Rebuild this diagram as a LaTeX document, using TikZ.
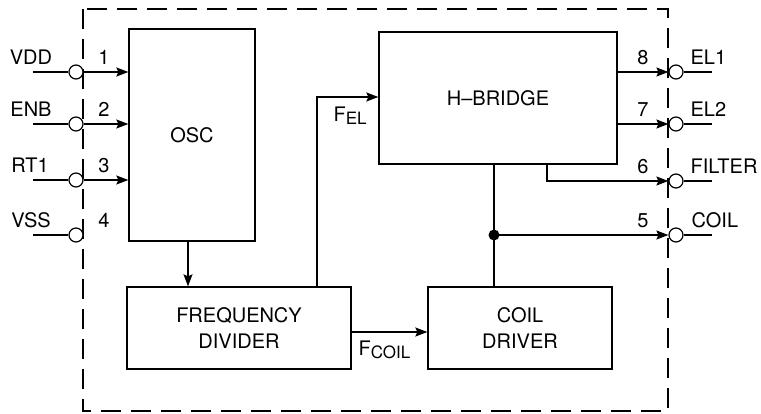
\documentclass[tikz,border=0pt]{standalone}
\usepackage{fontspec}
\setmainfont{TeX Gyre Heros}
\usetikzlibrary{arrows.meta}
\newcommand{\sub}[1]{{\fontsize{17}{17}\selectfont\raisebox{-3.5pt}{#1}}}
\begin{document}
\begin{tikzpicture}[x=1pt,y=-1pt,
  font=\fontsize{20}{26}\selectfont,
  line width=1.3pt,
  >={Stealth[length=12pt,width=9pt,inset=2pt]},
  blk/.style={draw,line width=1.3pt,inner sep=0pt,align=center},
  pin/.style={draw,circle,line width=1.2pt,minimum size=14pt,inner sep=0pt,fill=white},
  border/.style={draw,line width=2.8pt,dash pattern=on 20pt off 10pt},
  lbl/.style={anchor=base,inner sep=0pt},
  rlbl/.style={anchor=base west,inner sep=0pt}]
\useasboundingbox (0,0) rectangle (761,413);
\draw[border] (83,9) rectangle (668,411);
% blocks
\node[blk,minimum width=126pt,minimum height=212pt] (osc) at (192,135) {OSC};
\node[blk,minimum width=238pt,minimum height=132pt] (hb) at (498,98) {H--BRIDGE};
\node[blk,minimum width=224pt,minimum height=82pt] (fd) at (239,328) {FREQUENCY\\DIVIDER};
\node[blk,minimum width=184pt,minimum height=82pt] (cd) at (520,328) {COIL\\DRIVER};
% left pins
\node[pin] (p1) at (76,72) {};
\node[pin] (p2) at (76,124) {};
\node[pin] (p3) at (76,180) {};
\node[pin] (p4) at (76,235) {};
\coordinate (l1) at (33,72);
\coordinate (l2) at (33,124);
\coordinate (l3) at (33,180);
\coordinate (l4) at (33,235);
\draw (l1) -- (p1.west);
\draw (l2) -- (p2.west);
\draw (l3) -- (p3.west);
\draw (l4) -- (p4.west);
\draw[->] (p1.east) -- (osc.west |- p1);
\draw[->] (p2.east) -- (osc.west |- p2);
\draw[->] (p3.east) -- (osc.west |- p3);
\node[lbl] (tv) at (31,64) {VDD};
\node[lbl] (te) at (31,116) {ENB};
\node[lbl] (tr) at (30,172) {RT1};
\node[lbl] (ts) at (31,227) {VSS};
\node[lbl] (n1) at (104,64) {1};
\node[lbl] (n2) at (104,116) {2};
\node[lbl] (n3) at (104,172) {3};
\node[lbl] (n4) at (104,227) {4};
% right pins
\node[pin] (p8) at (676,72) {};
\node[pin] (p7) at (676,124) {};
\node[pin] (p6) at (676,181) {};
\node[pin] (p5) at (676,235) {};
\coordinate (r8) at (712,72);
\coordinate (r7) at (712,124);
\coordinate (r6) at (712,181);
\coordinate (r5) at (712,235);
\draw (p8.east) -- (r8);
\draw (p7.east) -- (r7);
\draw (p6.east) -- (r6);
\draw (p5.east) -- (r5);
\draw[->] (hb.east |- p8) -- (p8.west);
\draw[->] (hb.east |- p7) -- (p7.west);
\coordinate (f6) at (547,181);
\draw[->] (hb.south -| f6) -- (f6) -- (p6.west);
\coordinate (dot) at (494,235);
\draw (hb.south -| dot) -- (cd.north -| dot);
\draw[->] (dot) -- (p5.west);
\fill (dot) circle (5.5pt);
\node[lbl] (n8) at (643,64) {8};
\node[lbl] (n7) at (643,116) {7};
\node[lbl] (n6) at (643,173) {6};
\node[lbl] (n5) at (643,227) {5};
\node[rlbl] (te1) at (690,64) {EL1};
\node[rlbl] (te2) at (690,116) {EL2};
\node[rlbl] (tf) at (690,173) {FILTER};
\node[rlbl] (tc) at (691,227) {COIL};
% internal connections
\coordinate (oa) at (188,0);
\draw[->] (osc.south -| oa) -- (fd.north -| oa);
\coordinate (fel) at (317,97);
\draw[->] (fd.north -| fel) -- (fel) -- (hb.west |- fel);
\node[rlbl] (tfel) at (333,121) {F\sub{EL}};
\coordinate (fc) at (351,332);
\draw[->] (fc) -- (cd.west |- fc);
\node[rlbl] (tfc) at (358,355) {F\sub{COIL}};
\end{tikzpicture}
\end{document}
